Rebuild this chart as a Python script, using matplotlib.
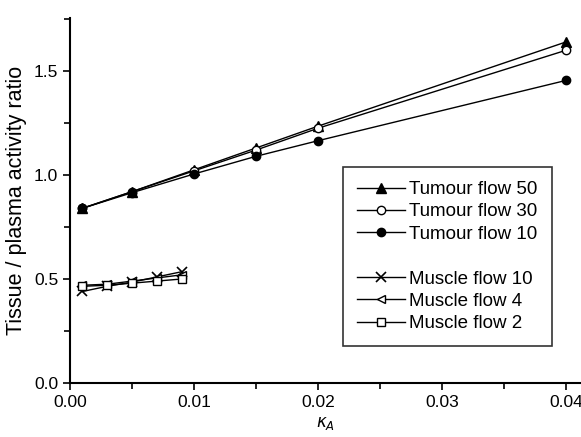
import numpy as np
import matplotlib.pyplot as plt
from matplotlib.lines import Line2D
from matplotlib.ticker import MultipleLocator

plt.rcParams['font.family'] = ['Liberation Sans', 'DejaVu Sans']

# Data
k_tumour = [0.001, 0.005, 0.01, 0.015, 0.02, 0.04]
tumour_50 = [0.84, 0.92, 1.025, 1.13, 1.235, 1.64]
tumour_30 = [0.84, 0.92, 1.02, 1.12, 1.225, 1.60]
tumour_10 = [0.84, 0.915, 1.005, 1.09, 1.165, 1.455]

k_muscle = [0.001, 0.003, 0.005, 0.007, 0.009]
muscle_10 = [0.44, 0.465, 0.485, 0.51, 0.535]
muscle_4 = [0.47, 0.475, 0.49, 0.505, 0.52]
muscle_2 = [0.465, 0.47, 0.48, 0.49, 0.50]

fig = plt.figure(figsize=(5.81, 4.37), dpi=100)
ax = fig.add_axes([70 / 581, 54 / 437, 1 - 70 / 581, (383 - 18) / 437])

lw = 1.0
ms = 6
ax.plot(k_tumour, tumour_50, '-^', color='black', lw=lw, ms=ms + 1, label='Tumour flow 50')
ax.plot(k_tumour, tumour_30, '-o', color='black', mfc='white', lw=lw, ms=ms, label='Tumour flow 30')
ax.plot(k_tumour, tumour_10, '-o', color='black', lw=lw, ms=ms, label='Tumour flow 10')
ax.plot(k_muscle, muscle_10, '-x', color='black', lw=lw, ms=ms + 1, mew=1.2, label='Muscle flow 10')
ax.plot(k_muscle, muscle_4, '-<', color='black', mfc='white', lw=lw, ms=ms, label='Muscle flow 4')
ax.plot(k_muscle, muscle_2, '-s', color='black', mfc='white', lw=lw, ms=ms - 0.5, label='Muscle flow 2')

ax.set_xlim(0, 0.0412)
ax.set_ylim(0, 1.755)
ax.xaxis.set_major_locator(MultipleLocator(0.01))
ax.xaxis.set_minor_locator(MultipleLocator(0.005))
ax.yaxis.set_major_locator(MultipleLocator(0.5))
ax.yaxis.set_minor_locator(MultipleLocator(0.25))
ax.xaxis.set_major_formatter(plt.FormatStrFormatter('%.2f'))
ax.yaxis.set_major_formatter(plt.FormatStrFormatter('%.1f'))
ax.tick_params(which='major', direction='out', length=5, width=1.2, labelsize=12.5)
ax.tick_params(which='minor', direction='out', length=4, width=1.2)

for side in ['top', 'right']:
    ax.spines[side].set_visible(False)
for side in ['left', 'bottom']:
    ax.spines[side].set_linewidth(1.5)

ax.set_ylabel('Tissue / plasma activity ratio', fontsize=15.5)
ax.yaxis.set_label_coords(-0.084, 0.5)
ax.set_xlabel(r'$\kappa_A$', fontsize=12, labelpad=4)

handles, labels = ax.get_legend_handles_labels()
blank = Line2D([], [], color='none')
handles = handles[:3] + [blank] + handles[3:]
labels = labels[:3] + [' '] + labels[3:]
leg = ax.legend(handles, labels, loc='upper left', bbox_to_anchor=(0.534, 0.592),
                fontsize=13.5, frameon=True, fancybox=False, edgecolor='black',
                handlelength=2.55, handletextpad=0.25, labelspacing=0.28,
                borderpad=0.75, borderaxespad=0)
leg.get_frame().set_linewidth(1.2)

fig.savefig('out.png', dpi=100)
